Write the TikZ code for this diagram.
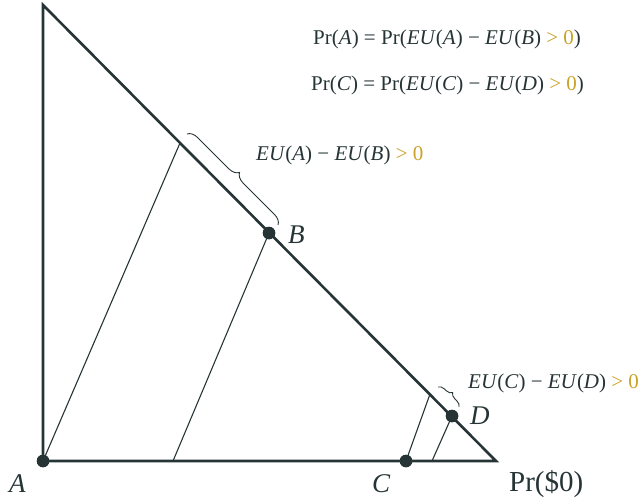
\documentclass[tikz,border=0pt]{standalone}
\usepackage{fontspec}
\setmainfont{Liberation Serif}
\usetikzlibrary{decorations.pathreplacing}
\definecolor{ink}{HTML}{263436}
\definecolor{gold}{HTML}{C9A227}
\tikzset{
  thickline/.style={draw=ink, line width=2.6pt},
  thinline/.style={draw=ink, line width=1.1pt},
  dotpt/.style={circle, fill=ink, inner sep=0pt, minimum size=12.5pt},
  bigl/.style={text=ink, font=\fontsize{27}{30}\selectfont\itshape, inner sep=0pt, text depth=0pt, anchor=base west},
  eqt/.style={text=ink, font=\fontsize{21}{24}\selectfont, inner sep=0pt, anchor=base west},
  bracel/.style={draw=ink, line width=0.9pt, decorate, decoration={brace, amplitude=10pt}},
}
\begin{document}
\begin{tikzpicture}[x=1pt,y=-1pt]
\useasboundingbox (0,0) rectangle (642,499);
\coordinate (T) at (43,5);
\coordinate (R) at (496,461);
\coordinate (P1) at (180,143);
\coordinate (Q1) at (173,461);
\coordinate (P2) at (430,394);
\coordinate (Q2) at (432,461);
\coordinate (b1s) at (187,134);
\coordinate (b1e) at (278,225);
\coordinate (b2s) at (438,387);
\coordinate (b2e) at (459,407);
\node[dotpt] (A) at (43,461) {};
\node[dotpt] (B) at (269,233) {};
\node[dotpt] (C) at (406,461) {};
\node[dotpt] (D) at (452,416) {};
% thin lines
\draw[thinline] (A.center) -- (P1);
\draw[thinline] (Q1) -- (B.center);
\draw[thinline] (C.center) -- (P2);
\draw[thinline] (Q2) -- (D.center);
% triangle
\draw[thickline, line join=miter] (T) -- (A.center) -- (R) -- cycle;
\node[dotpt] at (A) {};
\node[dotpt] at (B) {};
\node[dotpt] at (C) {};
\node[dotpt] at (D) {};
% braces
\draw[bracel] (b1s) -- (b1e);
\draw[bracel, decoration={brace, amplitude=6pt}] (b2s) -- (b2e);
% labels
\node[bigl] (lA) at (9,492) {A};
\node[bigl] (lB) at (288,243) {B};
\node[bigl] (lC) at (372,492) {C};
\node[bigl] (lD) at (470,424) {D};
\node[text=ink, font=\fontsize{29}{32}\selectfont, inner sep=0pt, anchor=base west] (pr0) at (509,491) {Pr(\$0)};
\node[eqt] (eq1) at (313,44) {Pr(\textit{A}) = Pr(\textit{EU}(\textit{A}) − \textit{EU}(\textit{B}) \textcolor{gold}{> 0})};
\node[eqt] (eq2) at (311,90) {Pr(\textit{C}) = Pr(\textit{EU}(\textit{C}) − \textit{EU}(\textit{D}) \textcolor{gold}{> 0})};
\node[eqt] (l1) at (256,160) {\textit{EU}(\textit{A}) − \textit{EU}(\textit{B}) \textcolor{gold}{> 0}};
\node[eqt] (l2) at (468,388) {\textit{EU}(\textit{C}) − \textit{EU}(\textit{D}) \textcolor{gold}{> 0}};
\end{tikzpicture}
\end{document}
